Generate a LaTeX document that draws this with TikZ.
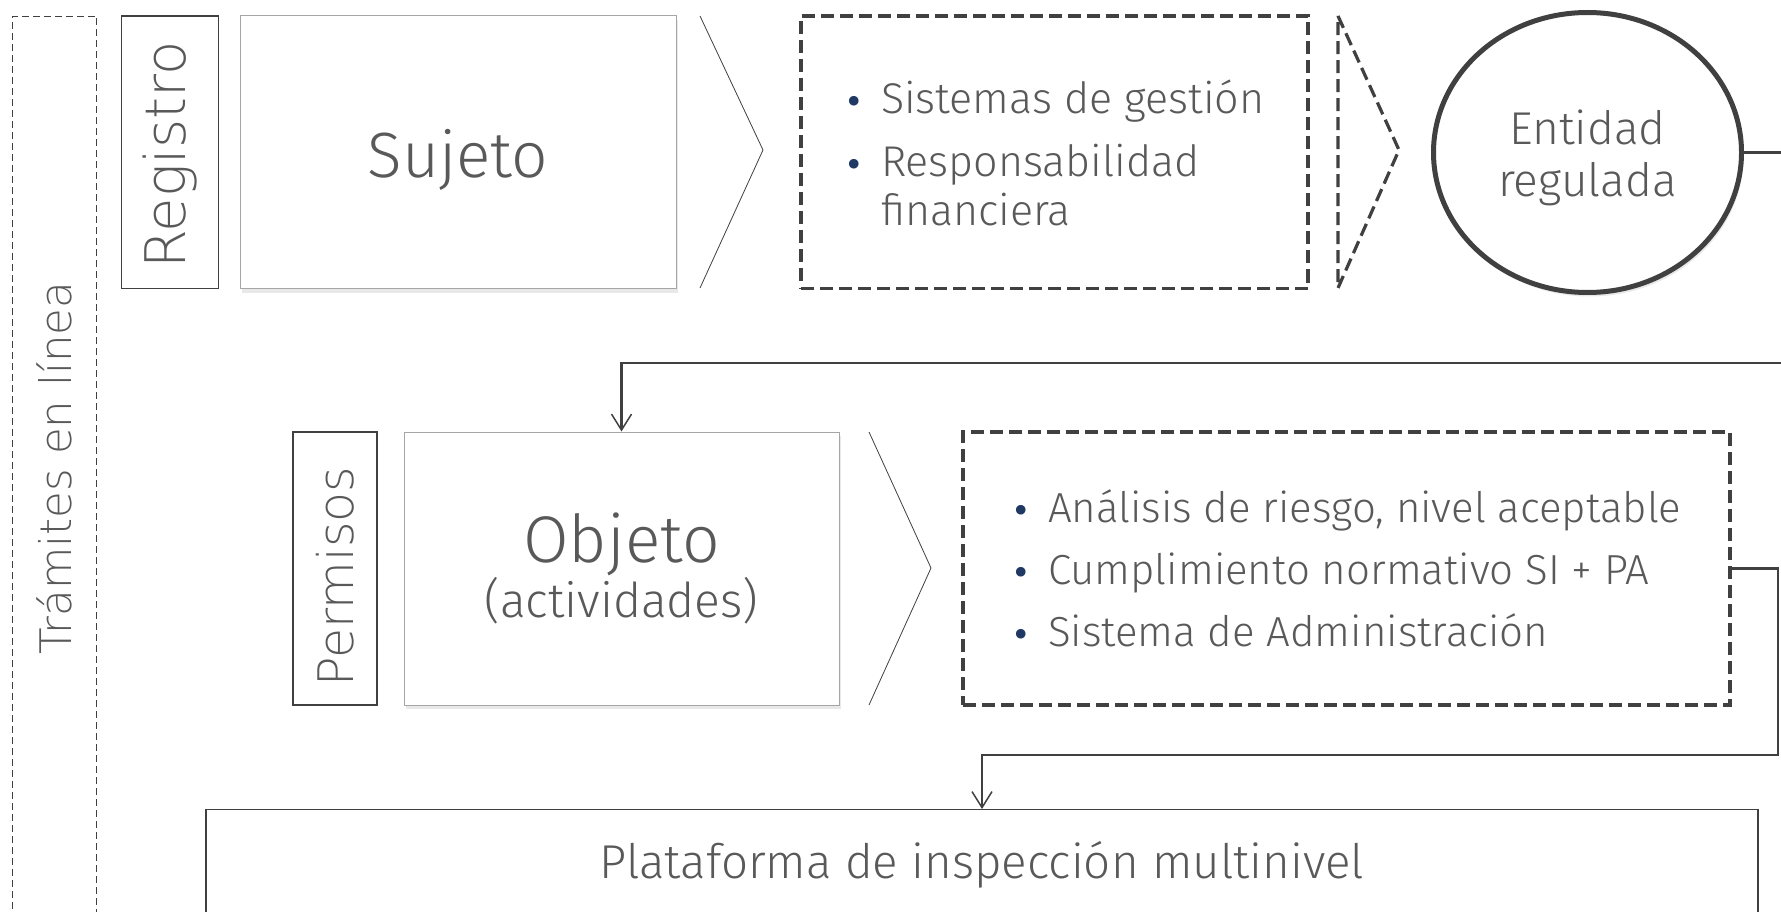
\documentclass[tikz,border=0pt]{standalone}
\usepackage{fontspec}
\IfFontExistsTF{Fira Sans Light}{\setmainfont{Fira Sans Light}}{\setmainfont{Fira Sans}}
\IfFontExistsTF{DejaVu Sans ExtraLight}{\newfontfamily\anchafont{DejaVu Sans ExtraLight}}{\newfontfamily\anchafont{DejaVu Sans}}
\newfontfamily\vinfont{DejaVu Sans}
\usetikzlibrary{shapes.geometric,arrows.meta,shadows}
\definecolor{gristexto}{HTML}{595959}
\definecolor{grislinea}{HTML}{404040}
\definecolor{grisclaro}{HTML}{A6A6A6}
\definecolor{azulvineta}{HTML}{1F3864}
\newcommand{\tam}[2]{\fontsize{#1}{#2}\selectfont}
\newcommand{\vin}{{\color{azulvineta}\vinfont\tam{33}{33}•}}

\begin{document}
\begin{tikzpicture}[x=1pt,y=-1pt,
    every node/.style={text=gristexto},
    marco/.style={draw=grislinea,line width=0.8pt,dash pattern=on 7pt off 4pt},
    etiqueta/.style={draw=grislinea,line width=1.2pt,inner sep=0pt},
    bloque/.style={draw=grisclaro,line width=1pt,inner sep=0pt,fill=white,
      drop shadow={shadow xshift=2pt,shadow yshift=-4pt,opacity=0.18}},
    guion/.style={draw=grislinea,line width=3.2pt,dash pattern=on 13pt off 6pt},
    flecha/.style={draw=grislinea,line width=0.8pt},
    conector/.style={draw=grislinea,line width=2.2pt,-{Straight Barb[length=16pt,width=20pt,line width=1.5pt]}}]
  \clip (0,0) rectangle (1781,912);
  \fill[white] (0,0) rectangle (1781,912);

  % columna izquierda
  \node[marco,minimum width=84pt,minimum height=904pt] (tram) at (54.5,468)
    {\rotatebox{90}{\anchafont\tam{43.5}{50}Trámites en línea}};

  % fila de registro
  \node[etiqueta,minimum width=96.5pt,minimum height=272.5pt] (reg) at (170,152.25)
    {\rotatebox{90}{\anchafont\tam{56}{60}\hspace*{-6pt}Registro}};
  \node[bloque,minimum width=436pt,minimum height=272.5pt,text height=50pt,text depth=0pt] (suj) at (458,152.25)
    {\tam{64}{70}Sujeto};
  \draw[flecha] (700,16) -- (763,150) -- (700,288);
  \node[guion,minimum width=507pt,minimum height=272.5pt] (sis) at (1054.5,152.25) {};
  \node[font=\tam{43}{49}] (sislis) at ([yshift=-7pt]sis.center)
    {\begin{tabular}{@{}l@{\hspace{17pt}}l@{}}
      \vin & Sistemas de gestión\\[14pt]
      \vin & Responsabilidad\\
           & financiera
    \end{tabular}};
  \draw[guion] (1338,16) -- (1399,150) -- (1338,288) -- cycle;
  \node[ellipse,draw=grislinea,line width=5pt,minimum width=308pt,minimum height=280pt,
        inner sep=0pt,fill=white,
        drop shadow={shadow xshift=2pt,shadow yshift=-4pt,opacity=0.18}] (ent) at (1587.5,152.5) {};
  \node[align=center,font=\tam{46}{52}] (enttxt) at ([yshift=-5pt]ent.center) {Entidad\\regulada};

  % fila de permisos
  \node[etiqueta,minimum width=84pt,minimum height=273pt] (per) at (335,568.5)
    {\rotatebox{90}{\anchafont\tam{49}{50}\hspace*{-16pt}Permisos}};
  \node[bloque,minimum width=435pt,minimum height=273pt,align=center] (obj) at (621.5,568.5)
    {\tam{66}{70}Objeto\\\tam{48}{72}(actividades)};
  \draw[flecha] (869,432) -- (931,568) -- (869,705);
  \node[guion,minimum width=767pt,minimum height=273pt] (ana) at (1346.5,568.5) {};
  \node[font=\tam{42}{48}] (analis) at ([yshift=-6pt]ana.center)
    {\begin{tabular}{@{}l@{\hspace{17pt}}l@{}}
      \vin & Análisis de riesgo, nivel aceptable\\[14pt]
      \vin & Cumplimiento normativo SI + PA\\[14pt]
      \vin & Sistema de Administración
    \end{tabular}};

  % plataforma
  \node[etiqueta,minimum width=1552pt,minimum height=110pt,anchor=north,font=\tam{47.5}{54}] (pla) at (982,809)
    {Plataforma de inspección multinivel};

  % conectores
  \coordinate (c1) at (1800,363);
  \coordinate (c2) at (1778,755);
  \draw[conector] (ent.east) -| (c1) -| (obj.north);
  \draw[conector] (ana.east) -| (c2) -| (pla.north);
\end{tikzpicture}
\end{document}
